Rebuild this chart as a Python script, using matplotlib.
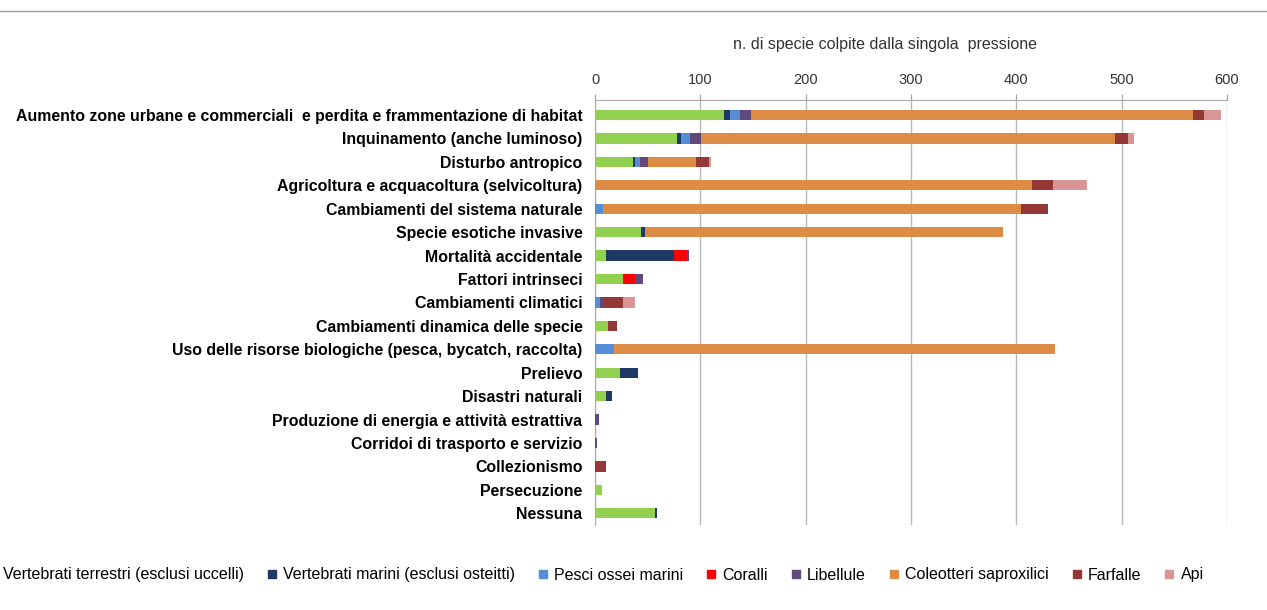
import numpy as np
import matplotlib
matplotlib.use("Agg")
import matplotlib.pyplot as plt
from matplotlib.lines import Line2D

categorie = ["Aumento zone urbane e commerciali  e perdita e frammentazione di habitat",
             "Inquinamento (anche luminoso)",
             "Disturbo antropico",
             "Agricoltura e acquacoltura (selvicoltura)",
             "Cambiamenti del sistema naturale",
             "Specie esotiche invasive",
             "Mortalità accidentale",
             "Fattori intrinseci",
             "Cambiamenti climatici",
             "Cambiamenti dinamica delle specie",
             "Uso delle risorse biologiche (pesca, bycatch, raccolta)",
             "Prelievo",
             "Disastri naturali",
             "Produzione di energia e attività estrattiva",
             "Corridoi di trasporto e servizio",
             "Collezionismo",
             "Persecuzione",
             "Nessuna"]

vert_terrestri = [122, 78, 36, 0, 0, 44, 10, 27, 0, 12, 0, 24, 10, 0, 0, 0, 7, 57]
vert_marini = [6, 4, 2, 0, 0, 3, 65, 0, 0, 0, 0, 17, 6, 0, 0, 0, 0, 2]
pesci_ossei = [10, 8, 5, 0, 8, 0, 0, 0, 5, 0, 18, 0, 0, 0, 0, 0, 0, 0]
coralli = [0, 0, 0, 0, 0, 0, 12, 11, 0, 0, 0, 0, 0, 0, 0, 0, 0, 0]
libellule = [10, 11, 7, 0, 0, 0, 2, 8, 4, 0, 0, 0, 0, 4, 2, 0, 0, 0]
coleotteri = [420, 393, 46, 415, 396, 340, 0, 0, 0, 0, 419, 0, 0, 0, 0, 0, 0, 0]
farfalle = [10, 12, 12, 20, 26, 0, 0, 0, 18, 9, 0, 0, 0, 0, 0, 10, 0, 0]
api = [16, 6, 2, 32, 0, 0, 0, 0, 11, 0, 0, 0, 0, 0, 0, 0, 0, 0]

serie = [("Vertebrati terrestri (esclusi uccelli)", vert_terrestri, "#92d050"),
         ("Vertebrati marini (esclusi osteitti)", vert_marini, "#1f3864"),
         ("Pesci ossei marini", pesci_ossei, "#558ed5"),
         ("Coralli", coralli, "#ff0000"),
         ("Libellule", libellule, "#604a7b"),
         ("Coleotteri saproxilici", coleotteri, "#de8b44"),
         ("Farfalle", farfalle, "#953735"),
         ("Api", api, "#d99694")]

plt.rcParams['font.family'] = ['Liberation Sans', 'DejaVu Sans']

W, H = 1267, 610
fig = plt.figure(figsize=(W / 100, H / 100), dpi=100)
ax = fig.add_axes([595 / W, 1 - 525 / H, (1227 - 595) / W, (525 - 100) / H])

y = np.arange(len(categorie))
left = np.zeros(len(categorie))
handles = []
for nome, vals, col in serie:
    vals = np.array(vals, dtype=float)
    ax.barh(y, vals, left=left, height=0.44, color=col, zorder=3)
    left += vals
    handles.append(Line2D([], [], marker='s', linestyle='none', markersize=6,
                          markerfacecolor=col, markeredgecolor=col, label=nome))

ax.set_xlim(0, 600)
ax.set_ylim(17.5, -0.64)
ax.set_xticks(np.arange(0, 601, 100))
ax.xaxis.tick_top()
ax.xaxis.set_label_position('top')
ax.tick_params(axis='x', length=4, color='#a0a0a0', pad=5, labelsize=10.5, labelcolor='#333333')
ax.set_xlabel("n. di specie colpite dalla singola  pressione", fontsize=11.5, color='#333333')
ax.xaxis.set_label_coords(0.459, 1 + 56 / 425)
ax.xaxis.label.set_va('center')
ax.set_yticks(y)
ax.set_yticklabels(categorie, fontsize=11.4, fontweight='bold')
ax.tick_params(axis='y', length=0, pad=9)
ax.grid(axis='x', color='#b8b8b8', linewidth=1, zorder=0)
for s in ['right', 'bottom']:
    ax.spines[s].set_visible(False)
ax.spines['top'].set_color('#a8a8a8')
ax.spines['left'].set_color('#a8a8a8')

# first marker sits just off the left edge, as in the original
fig.legend(handles=handles, loc='center left', bbox_to_anchor=(-0.0115, 1 - 575 / H),
           ncol=8, frameon=False, fontsize=11.5, handlelength=0.8, handletextpad=0.3,
           columnspacing=1.35, borderaxespad=0, borderpad=0)

fig.add_artist(Line2D([0, 1], [1 - 11 / H, 1 - 11 / H], color='#a0a0a0', linewidth=1))

fig.savefig("out.png", dpi=100)
